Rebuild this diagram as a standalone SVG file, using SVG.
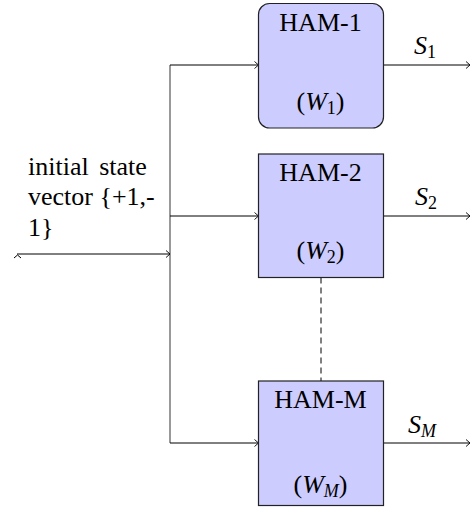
<svg xmlns="http://www.w3.org/2000/svg" width="471" height="510" viewBox="0 0 471 510">
<style>
.box{fill:#ccccff;stroke:#222;stroke-width:1.2}
.t{font-family:'Liberation Serif','Times New Roman','DejaVu Serif',serif;font-size:26px;fill:#000}
.m{font-family:'Liberation Serif','Times New Roman','DejaVu Serif',serif;font-size:26px;font-style:italic;fill:#000}
.sub{font-style:normal;font-size:18px}
.subi{font-style:italic;font-size:18px}
.w{stroke:#000;stroke-width:1;fill:none}
</style>
<defs>
<marker id="ar" markerWidth="10" markerHeight="10" refX="7" refY="5" orient="auto" markerUnits="userSpaceOnUse">
<path d="M3,1.5 L7,5 L3,8.5" fill="none" stroke="#000" stroke-width="0.9"/>
</marker>
</defs>
<g id="connectors">
<line class="w" x1="170" y1="65" x2="170" y2="443" style="stroke:#555;stroke-width:1.2"/>
<line class="w" x1="17" y1="254" x2="170" y2="254" marker-end="url(#ar)"/>
<path class="w" d="M14,258 L17.5,255 L21,258" stroke-width="0.9"/>
<line class="w" x1="170" y1="65" x2="258.5" y2="65" marker-end="url(#ar)"/>
<line class="w" x1="170" y1="216" x2="258.5" y2="216" marker-end="url(#ar)"/>
<line class="w" x1="170" y1="443" x2="258.5" y2="443" marker-end="url(#ar)"/>
<line class="w" x1="383.5" y1="65" x2="470" y2="65" marker-end="url(#ar)"/>
<line class="w" x1="383.5" y1="216" x2="470" y2="216" marker-end="url(#ar)"/>
<line class="w" x1="383.5" y1="443" x2="470" y2="443" marker-end="url(#ar)"/>
<line class="w" x1="321" y1="277.5" x2="321" y2="381" stroke-dasharray="6,4"/>
</g>
<g id="input-label">
<text class="t" x="28" y="175" word-spacing="4">initial state</text>
<text class="t" x="28" y="205">vector {+1,-</text>
<text class="t" x="28" y="236">1}</text>
</g>
<g id="ham1">
<rect class="box" x="258.5" y="3.5" width="125" height="124.5" rx="11"/>
<text class="t" x="320.5" y="31" text-anchor="middle">HAM-1</text>
<text class="t" x="320.5" y="110" text-anchor="middle">(<tspan class="m">W</tspan><tspan class="sub" dy="4">1</tspan><tspan dy="-4">)</tspan></text>
</g>
<g id="ham2">
<rect class="box" x="258.5" y="154" width="125" height="123.5"/>
<text class="t" x="320.5" y="181" text-anchor="middle">HAM-2</text>
<text class="t" x="320.5" y="259" text-anchor="middle">(<tspan class="m">W</tspan><tspan class="sub" dy="4">2</tspan><tspan dy="-4">)</tspan></text>
</g>
<g id="hamM">
<rect class="box" x="258.5" y="381" width="125" height="124.5"/>
<text class="t" x="320.5" y="408" text-anchor="middle">HAM-M</text>
<text class="t" x="320.5" y="493" text-anchor="middle">(<tspan class="m">W</tspan><tspan class="subi" dy="4">M</tspan><tspan dy="-4">)</tspan></text>
</g>
<g id="outputs">
<text class="m" x="414" y="54">S<tspan class="sub" dy="4">1</tspan></text>
<text class="m" x="415" y="205">S<tspan class="sub" dy="4">2</tspan></text>
<text class="m" x="408" y="433">S<tspan class="subi" dy="4">M</tspan></text>
</g>
</svg>
